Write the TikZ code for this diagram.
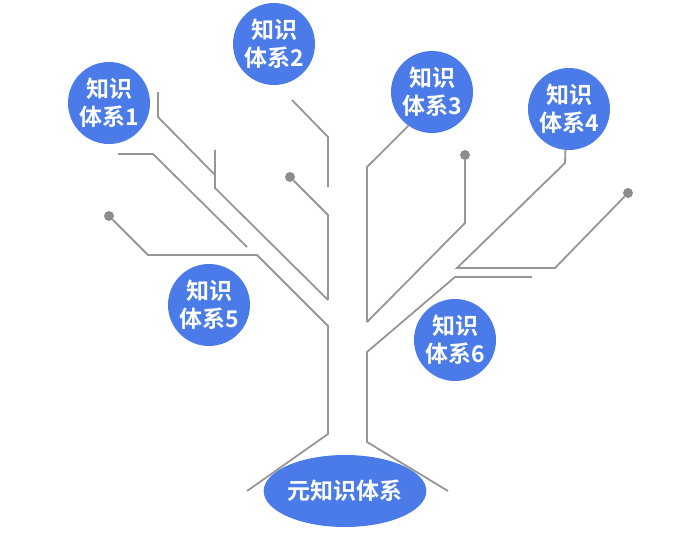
\documentclass[tikz,border=0pt]{standalone}
\usepackage{fontspec}
\newfontfamily\cjk{Noto Sans CJK SC}[BoldFont={Noto Sans CJK SC Bold}]
\usetikzlibrary{shapes.geometric}

\definecolor{knowblue}{RGB}{74,123,232}
\definecolor{branchgray}{RGB}{150,150,150}
\definecolor{knotgray}{RGB}{140,140,140}

\begin{document}
\begin{tikzpicture}[x=1pt, y=-1pt,
	branch/.style={draw=branchgray, line width=1.8pt},
	knot/.style={circle, fill=knotgray, minimum size=10pt, inner sep=0pt},
	topic/.style={circle, fill=knowblue, text=white, minimum size=82pt,
		inner sep=0pt, align=center,
		font=\cjk\bfseries\fontsize{23}{28}\selectfont},
	root/.style={ellipse, fill=knowblue, text=white, minimum width=130pt,
		minimum height=72pt, inner sep=0pt,
		font=\cjk\bfseries\fontsize{23}{28}\selectfont}]

	\useasboundingbox (0,0) rectangle (700,534);

% knowledge nodes %{{{2

	\node[topic] (K1) at (109,103) {知识\\体系1};
	\node[topic] (K2) at (274,44)  {知识\\体系2};
	\node[topic] (K3) at (432,92)  {知识\\体系3};
	\node[topic] (K4) at (569,109) {知识\\体系4};
	\node[topic] (K5) at (209,305) {知识\\体系5};
	\node[topic] (K6) at (455,340) {知识\\体系6};

	\node[root] (M) at (345,491) {元知识体系};

	% knots at branch tips
	\node[knot] (d1) at (290,177) {};
	\node[knot] (d2) at (109,216) {};
	\node[knot] (d3) at (465,155) {};
	\node[knot] (d4) at (628,193) {};

% coordinates %{{{2

	% left half
	\coordinate (a1) at (158,92);
	\coordinate (a2) at (158,117);
	\coordinate (a3) at (215,175);

	\coordinate (b1) at (215,150);
	\coordinate (b2) at (215,188);
	\coordinate (b3) at (328,300);

	\coordinate (c2) at (328,215);

	\coordinate (e1) at (292,100);
	\coordinate (e2) at (328,137);
	\coordinate (e3) at (328,187);

	\coordinate (f1) at (118,154);
	\coordinate (f2) at (153,154);
	\coordinate (f3) at (247,247);

	\coordinate (g2) at (148,255);
	\coordinate (g3) at (257,255);
	\coordinate (g4) at (328,326);
	\coordinate (g5) at (328,434);
	\coordinate (g6) at (247,491);

	% right half
	\coordinate (h2) at (367,167);
	\coordinate (h3) at (367,322);

	\coordinate (i2) at (465,223);

	\coordinate (j2) at (565,163);
	\coordinate (j3) at (457,268);
	\coordinate (j4) at (555,268);

	\coordinate (k1) at (532,277);
	\coordinate (k2) at (455,277);
	\coordinate (k3) at (367,352);
	\coordinate (k4) at (367,442);
	\coordinate (k5) at (448,491);

% branches %{{{2

	\draw[branch] (a1) -- (a2) -- (a3);
	\draw[branch] (b1) -- (b2) -- (b3);
	\draw[branch] (d1) -- (c2) -- (b3);
	\draw[branch] (e1) -- (e2) -- (e3);
	\draw[branch] (f1) -- (f2) -- (f3);

	% left trunk
	\draw[branch] (d2) -- (g2) -- (g3) -- (g4) -- (g5) -- (g6);

	\draw[branch] (K3.-125) -- (h2) -- (h3);
	\draw[branch] (d3) -- (i2) -- (h3);
	\draw[branch] (K4.-95) -- (j2) -- (j3) -- (j4) -- (d4);

	% right trunk
	\draw[branch] (k1) -- (k2) -- (k3) -- (k4) -- (k5);

% closing %{{{2

\end{tikzpicture}
\end{document}
